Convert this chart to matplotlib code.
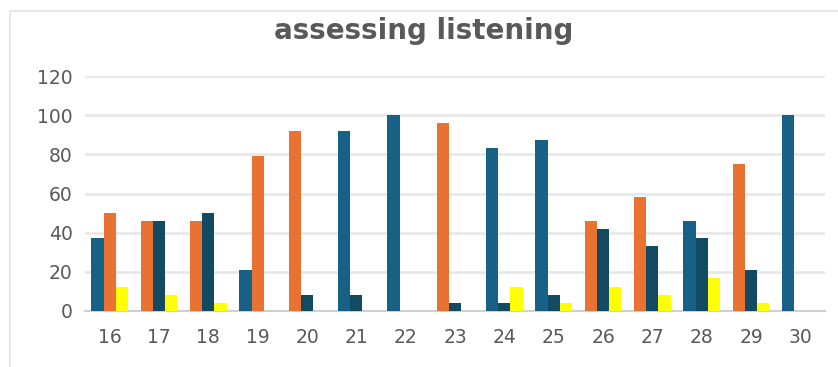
import matplotlib.pyplot as plt
import matplotlib.patches as mpatches
import numpy as np

plt.rcParams['font.family'] = ['DejaVu Sans']

categories = ['16', '17', '18', '19', '20', '21', '22', '23', '24', '25',
              '26', '27', '28', '29', '30']

# three bars per question, colour changes from bar to bar in the original
first = [37.5, 45.8, 45.8, 20.8, 91.7, 91.7, 100, 95.8, 83.3, 87.5,
         45.8, 58.3, 45.8, 75.0, 100]
second = [50.0, 45.8, 50.0, 79.2, 8.3, 8.3, 0, 4.2, 4.2, 8.3,
          41.7, 33.3, 37.5, 20.8, 0]
third = [12.5, 8.3, 4.2, 0, 0, 0, 0, 0, 12.5, 4.2,
         12.5, 8.3, 16.7, 4.2, 0]

blue = '#176086'
orange = '#E97132'
navy = '#124A64'
yellow = '#FFFF00'

first_colors = [blue, orange, orange, blue, orange, blue, blue, orange, blue, blue,
                orange, orange, blue, orange, blue]
second_colors = [orange, navy, navy, orange, navy, navy, navy, navy, navy, navy,
                 navy, navy, navy, navy, navy]
third_colors = [yellow] * 15

fig = plt.figure(figsize=(8.38, 3.67), dpi=100)
ax = fig.add_axes([85 / 838, 1 - 311 / 367, 740 / 838, 235 / 367])

x = np.arange(len(categories))
w = 0.248
ax.bar(x - w, first, w, color=first_colors, zorder=3)
ax.bar(x, second, w, color=second_colors, zorder=3)
ax.bar(x + w, third, w, color=third_colors, zorder=3)

ax.set_xlim(-0.5, len(categories) - 0.5)
ax.set_ylim(0, 120)
ax.set_yticks(range(0, 121, 20))
ax.set_xticks(x)
ax.set_xticklabels(categories)
ax.grid(axis='y', color='#e6e6e6', linewidth=1.8, zorder=0)
for s in ['top', 'right', 'left']:
    ax.spines[s].set_visible(False)
ax.spines['bottom'].set_color('#d0d0d0')
ax.spines['bottom'].set_linewidth(1.5)
ax.tick_params(length=0, labelsize=13.5, colors='#595959')
ax.tick_params(axis='y', pad=9)
ax.tick_params(axis='x', pad=12)

fig.text(424 / 838, 1 - 31 / 367, 'assessing listening', ha='center', va='center',
         fontsize=20, fontweight='bold', color='#595959')

# light chart-area frame
fig.patches.append(mpatches.Rectangle((10 / 838, -0.1), 1.2, 1 - 11 / 367 + 0.1,
                                      transform=fig.transFigure, fill=False,
                                      edgecolor='#e8e8e8', linewidth=1.5))

fig.savefig('out.png', dpi=100)
